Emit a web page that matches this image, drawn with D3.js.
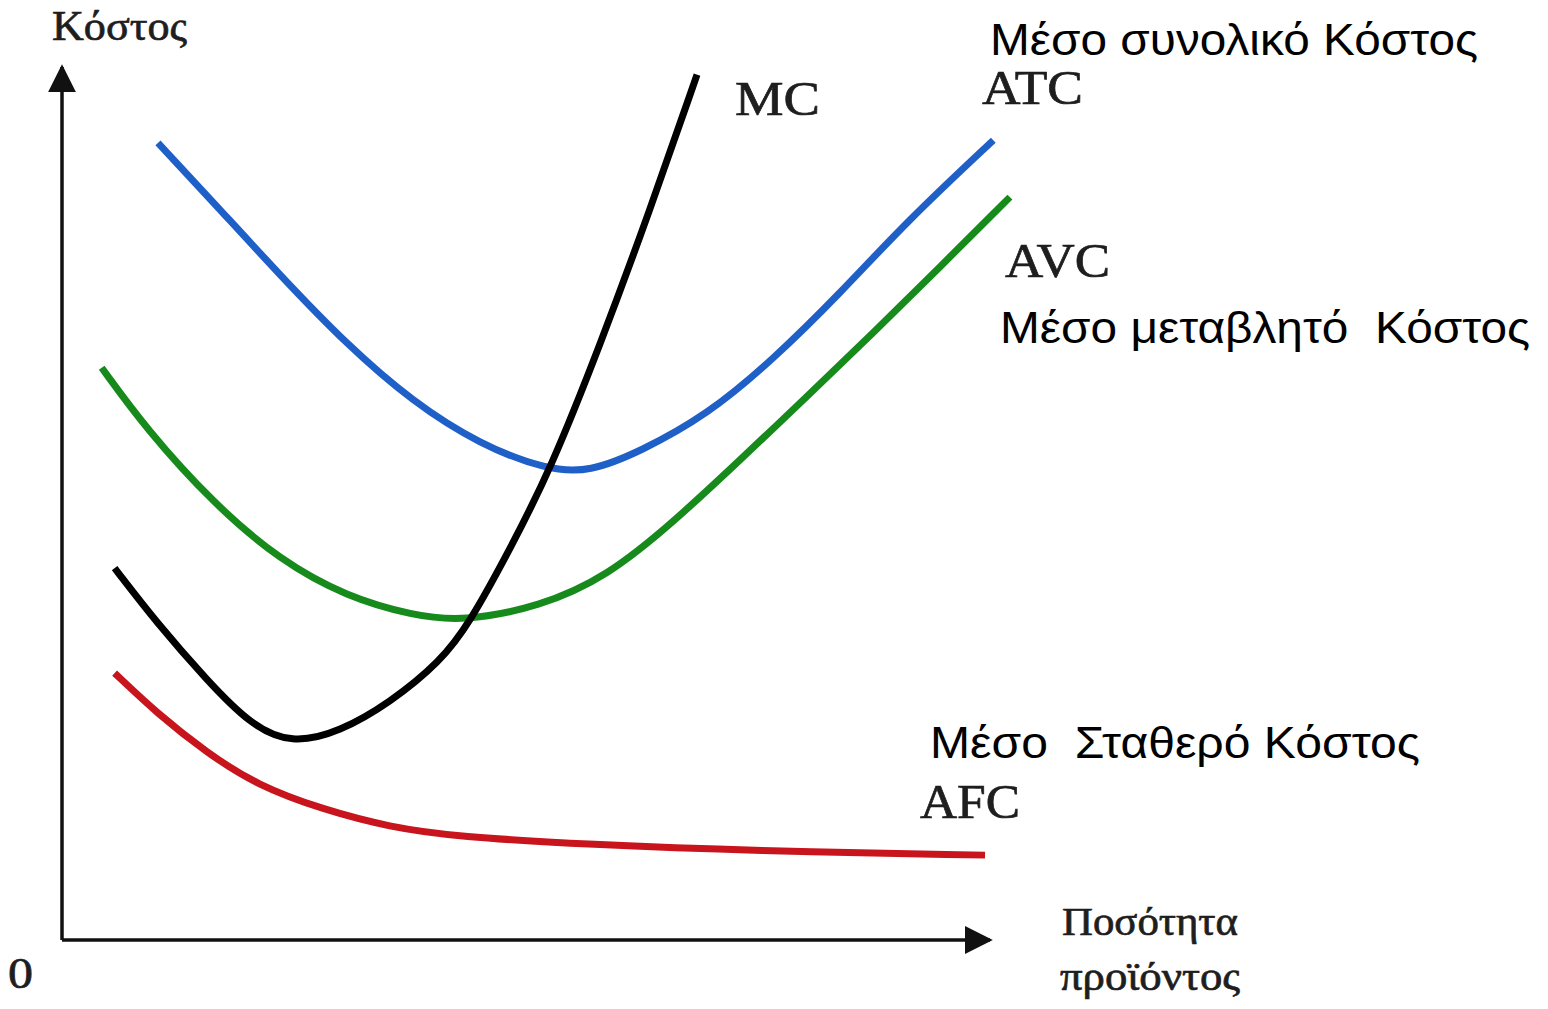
<!DOCTYPE html>
<html>
<head>
<meta charset="utf-8">
<script src="https://cdn.jsdelivr.net/npm/d3@7"></script>
<style>
  body { margin: 0; background: #fff; }
  svg { display: block; }
</style>
</head>
<body>
<svg id="chart"></svg>
<script>
// quantity (x) and cost (y), both on a 0..100 scale
var atcX = [10.4, 16.4, 23.6, 30.9, 38.0, 45.3, 52.6, 57.2, 62.6, 69.9, 77.0, 84.3, 91.5, 100.9];
var atcY = [91.1, 84.3, 76.0, 68.0, 61.5, 56.6, 53.7, 53.5, 55.8, 60.0, 66.3, 73.9, 82.1, 91.4];

var avcX = [4.3, 9.2, 16.4, 23.6, 30.9, 38.0, 43.4, 51.8, 59.0, 66.2, 73.5, 80.7, 87.9, 95.1, 102.7];
var avcY = [65.4, 58.3, 49.9, 43.4, 39.2, 37.1, 36.4, 38.1, 41.5, 47.7, 54.9, 62.1, 69.4, 76.9, 84.9];

var mcX = [5.7, 10.3, 15.7, 20.4, 24.9, 30.1, 35.5, 41.0, 44.2, 48.5, 52.9, 58.3, 63.7, 68.8];
var mcY = [42.5, 36.2, 29.7, 24.6, 22.4, 23.8, 27.1, 31.8, 36.3, 44.6, 53.7, 68.0, 83.4, 98.9];

var afcX = [5.7, 10.3, 15.7, 21.1, 28.3, 35.5, 42.8, 57.2, 74.5, 100.0];
var afcY = [30.5, 25.9, 21.4, 17.7, 14.9, 12.9, 11.8, 10.9, 10.2, 9.7];

var W = 1548, H = 1009;
var svg = d3.select("#chart").attr("width", W).attr("height", H);

var x = d3.scaleLinear().domain([0, 100]).range([62, 985]);
var y = d3.scaleLinear().domain([0, 100]).range([940, 65]);

// axes with arrow heads
svg.append("defs").append("marker")
  .attr("id", "arrow")
  .attr("viewBox", "0 0 10 10")
  .attr("refX", 9).attr("refY", 5)
  .attr("markerWidth", 8).attr("markerHeight", 8)
  .attr("markerUnits", "strokeWidth")
  .attr("orient", "auto")
  .append("path")
  .attr("d", "M0,0 L10,5 L0,10 Z")
  .attr("fill", "#111");

svg.append("path")
  .attr("d", "M" + x(0) + "," + y(0) + " L" + x(0) + "," + (y(100) + 2))
  .attr("stroke", "#111").attr("stroke-width", 3.5).attr("fill", "none")
  .attr("marker-end", "url(#arrow)");

svg.append("path")
  .attr("d", "M" + x(0) + "," + y(0) + " L" + (x(100) + 5) + "," + y(0))
  .attr("stroke", "#111").attr("stroke-width", 3.5).attr("fill", "none")
  .attr("marker-end", "url(#arrow)");

// curves (B-spline smooths out reading noise)
var line = d3.line()
  .x(d => x(d[0]))
  .y(d => y(d[1]))
  .curve(d3.curveBasis);

var curves = [
  {xs: afcX, ys: afcY, color: "#c8141c"},
  {xs: avcX, ys: avcY, color: "#178a1c"},
  {xs: atcX, ys: atcY, color: "#1f60c8"},
  {xs: mcX, ys: mcY, color: "#000000"}
];

curves.forEach(c => {
  svg.append("path")
    .datum(d3.zip(c.xs, c.ys))
    .attr("d", line)
    .attr("fill", "none")
    .attr("stroke", c.color)
    .attr("stroke-width", 7)
    .attr("stroke-linecap", "butt");
});

// serif labels from the original drawing
var serif = "'Liberation Serif', 'DejaVu Serif', serif";
var serifLabels = [
  {t: "Κόστος", x: 52, y: 40, size: 43, len: 135},
  {t: "MC", x: 735, y: 115, size: 48, len: 85},
  {t: "ATC", x: 982, y: 104, size: 48, len: 101},
  {t: "AVC", x: 1005, y: 277, size: 48, len: 105},
  {t: "AFC", x: 920, y: 818, size: 48, len: 100},
  {t: "Ποσότητα", x: 1062, y: 935, size: 40, len: 176},
  {t: "προϊόντος", x: 1060, y: 990, size: 40, len: 180},
  {t: "0", x: 8, y: 988, size: 44, len: 25}
];

svg.selectAll(".serif")
  .data(serifLabels)
  .enter()
  .append("text")
    .attr("class", "serif")
    .attr("x", d => d.x)
    .attr("y", d => d.y)
    .attr("textLength", d => d.len)
    .attr("lengthAdjust", "spacingAndGlyphs")
    .attr("font-family", serif)
    .attr("font-size", d => d.size)
    .attr("fill", "#1e1e1e")
    .attr("stroke", "#1e1e1e")
    .attr("stroke-width", 0.7)
    .text(d => d.t);

// added sans-serif descriptions
var sansLabels = [
  {t: "Μέσο συνολικό Κόστος", x: 990, y: 55, len: 488},
  {t: "Μέσο μεταβλητό  Κόστος", x: 1000, y: 343, len: 530},
  {t: "Μέσο  Σταθερό Κόστος", x: 930, y: 758, len: 490}
];

svg.selectAll(".sans")
  .data(sansLabels)
  .enter()
  .append("text")
    .attr("class", "sans")
    .attr("x", d => d.x)
    .attr("y", d => d.y)
    .attr("textLength", d => d.len)
    .attr("lengthAdjust", "spacingAndGlyphs")
    .style("white-space", "pre")
    .attr("font-family", "'Liberation Sans', Arial, sans-serif")
    .attr("font-size", 44)
    .attr("fill", "#000")
    .text(d => d.t);
</script>
</body>
</html>
